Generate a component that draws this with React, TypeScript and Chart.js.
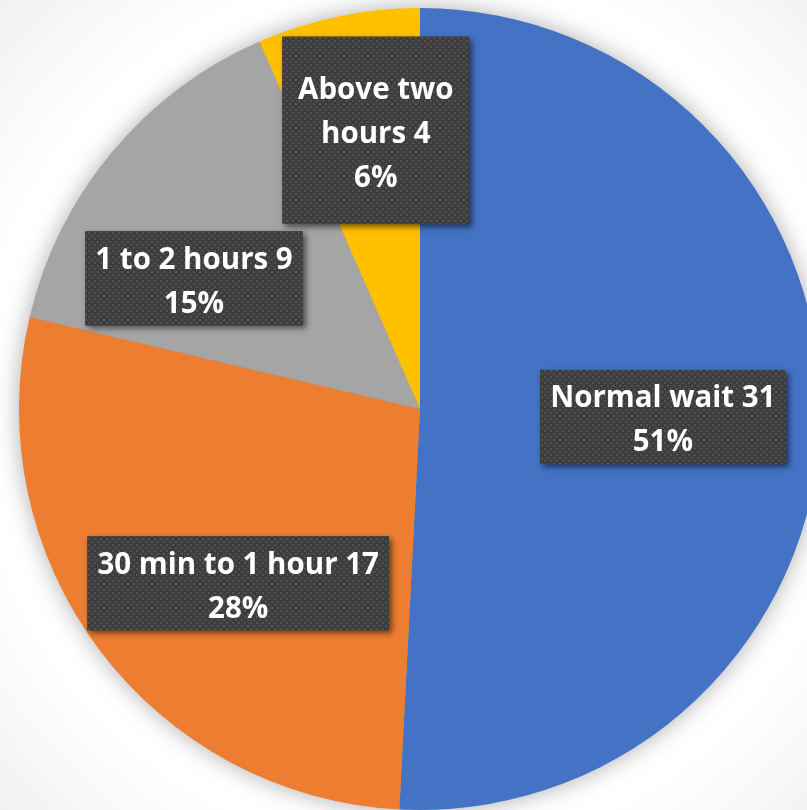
import React, { useEffect, useRef } from 'react';
import { Chart, registerables } from 'chart.js';

Chart.register(...registerables);

// ---- data ----
const categories = ['Normal wait', '30 min to 1 hour', '1 to 2 hours', 'Above two hours'];
const counts = [31, 17, 9, 4];
const percentLabels = [51, 28, 15, 6];
const sliceColors = ['#4472C4', '#ED7D31', '#A5A5A5', '#FFC000'];

// ---- label layout (polar placement relative to each slice) ----
const labelAngleShiftDeg = [0.4, -6.9, -9.8, 2.8];
const labelRadiusFrac = [0.606, 0.628, 0.651, 0.704];
const labelWrapWidth = [0, 0, 0, 167];
const labelMinBox = [null, null, null, { w: 187, h: 187 }] as ({ w: number; h: number } | null)[];

const FONT = 'bold 29.5px "Open Sans", Lato, sans-serif';
const LINE_H = 44;

function makePattern(ctx: CanvasRenderingContext2D) {
  const t = document.createElement('canvas');
  t.width = 6;
  t.height = 6;
  const c = t.getContext('2d')!;
  c.fillStyle = '#3d3d3d';
  c.fillRect(0, 0, 6, 6);
  c.fillStyle = '#525252';
  c.fillRect(1, 1, 2, 2);
  c.fillRect(4, 4, 2, 2);
  return ctx.createPattern(t, 'repeat')!;
}

function wrap(ctx: CanvasRenderingContext2D, text: string, maxW: number): string[] {
  if (!maxW) return [text];
  const words = text.split(' ');
  const lines: string[] = [];
  let cur = '';
  for (const w of words) {
    const test = cur ? cur + ' ' + w : w;
    if (cur && ctx.measureText(test).width > maxW) {
      lines.push(cur);
      cur = w;
    } else cur = test;
  }
  if (cur) lines.push(cur);
  return lines;
}

export default function App() {
  const ref = useRef<HTMLCanvasElement>(null);

  useEffect(() => {
    const canvas = ref.current!;

    const bgPlugin = {
      id: 'bg',
      beforeDraw(chart: any) {
        const { ctx, width, height } = chart;
        const arc: any = chart.getDatasetMeta(0).data[0];
        const cx = arc.x, cy = arc.y, r = arc.outerRadius;
        const g = ctx.createRadialGradient(cx, cy, r, cx, cy, r * 1.5);
        g.addColorStop(0, '#ffffff');
        g.addColorStop(0.2, '#ffffff');
        g.addColorStop(1, '#efefef');
        ctx.save();
        ctx.fillStyle = g;
        ctx.fillRect(0, 0, width, height);
        ctx.restore();
      },
      beforeDatasetsDraw(chart: any) {
        const { ctx } = chart;
        const arc: any = chart.getDatasetMeta(0).data[0];
        ctx.save();
        ctx.shadowColor = 'rgba(0,0,0,0.35)';
        ctx.shadowBlur = 24;
        ctx.beginPath();
        ctx.arc(arc.x, arc.y, arc.outerRadius - 1, 0, Math.PI * 2);
        ctx.fillStyle = '#999';
        ctx.fill();
        ctx.restore();
      },
    };

    const labelPlugin = {
      id: 'boxLabels',
      afterDatasetsDraw(chart: any) {
        const { ctx } = chart;
        const meta = chart.getDatasetMeta(0);
        const pattern = makePattern(ctx);
        ctx.save();
        ctx.font = FONT;
        meta.data.forEach((arc: any, i: number) => {
          const mid = (arc.startAngle + arc.endAngle) / 2 + (labelAngleShiftDeg[i] * Math.PI) / 180;
          const rr = arc.outerRadius * labelRadiusFrac[i];
          const px = arc.x + Math.cos(mid) * rr;
          const py = arc.y + Math.sin(mid) * rr;
          const lines = [...wrap(ctx, `${categories[i]} ${counts[i]}`, labelWrapWidth[i]), `${percentLabels[i]}%`];
          const tw = Math.max(...lines.map((l) => ctx.measureText(l).width));
          let bw = tw + 20;
          let bh = lines.length * LINE_H + 6;
          const mb = labelMinBox[i];
          if (mb) {
            bw = Math.max(bw, mb.w);
            bh = Math.max(bh, mb.h);
          }
          const bx = px - bw / 2;
          const by = py - bh / 2;
          ctx.save();
          ctx.shadowColor = 'rgba(0,0,0,0.55)';
          ctx.shadowBlur = 6;
          ctx.shadowOffsetX = 3;
          ctx.shadowOffsetY = 3;
          ctx.fillStyle = '#3d3d3d';
          ctx.fillRect(bx, by, bw, bh);
          ctx.restore();
          ctx.fillStyle = pattern;
          ctx.fillRect(bx, by, bw, bh);
          ctx.fillStyle = '#ffffff';
          ctx.textAlign = 'center';
          ctx.textBaseline = 'middle';
          const startY = py - ((lines.length - 1) * LINE_H) / 2 + 4;
          lines.forEach((l, k) => ctx.fillText(l, px, startY + k * LINE_H));
        });
        ctx.restore();
      },
    };

    const chart = new Chart(canvas, {
      type: 'pie',
      data: {
        labels: categories,
        datasets: [
          {
            data: counts,
            backgroundColor: sliceColors,
            borderWidth: 0,
          },
        ],
      },
      options: {
        responsive: false,
        animation: false,
        devicePixelRatio: 1,
        layout: { padding: { top: 8, bottom: 8, left: 19, right: 19 } },
        plugins: {
          legend: { display: false },
          tooltip: { enabled: false },
        },
      },
      plugins: [bgPlugin, labelPlugin],
    } as any);

    return () => chart.destroy();
  }, []);

  return (
    <div
      style={{
        position: 'fixed',
        left: 0,
        top: 0,
        width: 807,
        height: 810,
        overflow: 'hidden',
        background: '#f4f4f4',
      }}
    >
      <canvas ref={ref} width={840} height={818} style={{ width: 840, height: 818, display: 'block' }} />
    </div>
  );
}
